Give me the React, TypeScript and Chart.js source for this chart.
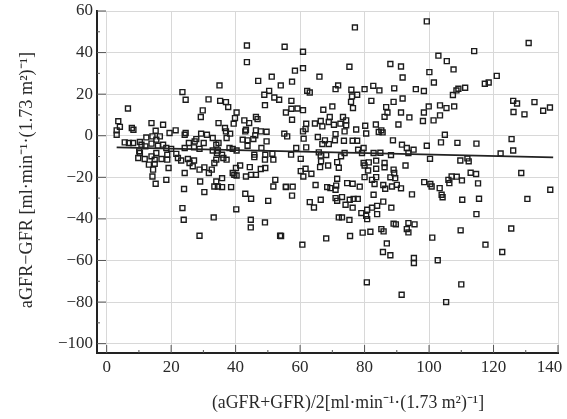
import React, { useEffect, useRef } from "react";
import { Chart, registerables } from "chart.js";

Chart.register(...registerables);

const xTitle = "(aGFR+GFR)/2[ml·min⁻¹·(1.73 m²)⁻¹]";
const yTitle = "aGFR−GFR [ml·min⁻¹·(1.73 m²)⁻¹]";
const xTickLabels = [0, 20, 40, 60, 80, 100, 120, 140];
const yTickLabels = [60, 40, 20, 0, -20, -40, -60, -80, -100];
const meanLine: [number, number][] = [[3.1, -5.6], [138.5, -10.4]];

const lowRange: [number, number][] = [
  [3.6,7],[4.1,4.3],[3.1,2.6],[3.1,0.5],[6.6,13.1],[7.8,3.7],[8.3,2.9],[5.6,-3.2],[6.9,-3.5],[8.2,-3.5],[10.3,-3],[10.8,-4.3],[12.3,-0.8],[12,-5.1],[10.1,-7.5],[10.3,-8.3],[9.8,-10.7],[11.8,-11.2],[13.1,-13.9],[13.9,6.1],[17.5,5.3],[15.2,2.4],[14.2,-0.3],[16.5,-0.3],[15.4,-1.9],[13.9,-3.8],[15.9,-4.8],[17.5,-4.3],[18.5,-5.9],[20,-6.3],[13.9,-9.9],[15.4,-8.3],[14.9,-11.5],[17,-11.2],[18.8,-9.1],[18.8,-11.5],[14.9,-13.5],[19.2,-15.5],[14.4,-16.3],[14.2,-19.6],[15.2,-23.1],[18.5,-21.2],[19.5,1.3],[21.4,2.6],[24.5,1.3],[24.2,0.5],[21.6,-8.7],[22.1,-10.7],[23.1,-11.9],[24.2,-5.9],[25.5,-3.5],[27.3,-2.7],[27.1,-5.6],[28.8,-6.3],[25.2,-11.2],[27.1,-11.9],[25.7,-13.1],[26.7,-14.7],[24.2,-17.9],[24,-25.6],[23.5,21],[24.5,17.3],[31.6,17.5],[29.8,12.2],[29.2,9],[35,24.2],[35.2,16.8],[37,16.2],[37.7,13.8],[34.7,6.1],[40.3,11.2],[39.8,8.5],[39.4,5.8],[36.7,3.7],[37,2.1],[38.3,1],[37.2,-1.1],[29.3,1],[31.1,0.5],[27.8,-1.6],[32.9,-1.1],[30.1,-3.5],[34.7,-3.5],[34,-4.3],[32.9,-7.1],[34.5,-7.1],[34.2,-8.3],[38.1,-5.9],[39.1,-6.3],[40.3,-7.1],[35.8,-9.1],[36.2,-10.7],[37.2,-11.5],[34,-11.5],[33.4,-13.1],[28.8,-16.3],[30.3,-15.2],[31.7,-17.9],[32.6,-16.3],[29,-22],[30.3,-27.1],[34,-22],[33.4,-24.4],[34.5,-24.4],[35.8,-20.4],[35.8,-24.7],[38.6,-24.7],[39.1,-17.9],[39.6,-18.8],[40.3,-19.1],[40.1,-15.5],[41.4,-14.3],
  [23.5,-34.8],[23.9,-40.4],[33.2,-39.3],[28.8,-48.1],[40.2,-35.4],
];

const midRange: [number, number][] = [
  [43.2,-19.6],[44.4,-15.1],[44.8,-18.8],[46.3,-18.8],[47.8,-16],[49.2,-15.5],[43,-27.9],[44.8,-30.3],[50.1,-31.3],[43.5,43.4],[43.5,35.4],[55.2,42.8],[47,26.4],[51.2,28.4],[54,24.2],[50.4,21.6],[48.9,19.7],[52,18.4],[53.5,17.3],[49.1,14.7],[55.6,11.2],[42.7,7.4],[44.2,6.1],[46.3,9],[46.8,8],[43.2,2.9],[43,2.1],[46.3,2.6],[47.8,2.1],[49.6,1.9],[46.1,0.2],[45.5,-1.6],[42.2,-1.9],[43.7,-2.2],[43.7,-4.8],[49.6,-2.7],[48,-5.9],[45.8,-9.1],[45.8,-10.3],[49.2,-9.1],[51.4,-8.7],[49.1,-11.5],[51.7,-11.5],[52.3,-21.2],[51.7,-24.4],[55.6,-24.7],[55.1,1],[56,-0.3],[44.7,-40.4],[44.7,-44.1],[49.1,-41.7],[53.8,-48.1],
  [60.9,40.4],[77,52.1],[75.3,33.2],[60.9,32.5],[58.4,31.3],[66,28.4],[57.5,26],[62.2,21.6],[63,20.8],[71.8,24.2],[71,22.4],[75.9,22.1],[77.7,19.7],[76.1,18.9],[75.8,16.3],[76.4,13.3],[57.3,16.8],[57.3,13],[59.2,13.1],[60.9,12.3],[67.2,12.5],[70,14.1],[57.5,7.7],[61.9,5.8],[64.6,5.9],[66.4,7.1],[66.9,4.5],[69.2,9],[68.9,6.6],[70.5,5.3],[73.3,9],[72.5,5.8],[74.3,7.4],[74.3,5],[61.7,3.2],[60.9,2.1],[73.8,2.1],[77.4,3],[61.1,-1.4],[65.5,-0.6],[71,0.8],[70.8,-2.2],[73.6,-2.4],[76.3,-2.4],[77.7,-2.4],[67.7,-2.2],[66.9,-4],[68.9,-4],[58.8,-5.9],[61.9,-5.6],[78,-6.7],[73.8,-8.3],[72.7,-9.9],[65.8,-8],[66.4,-9.5],[68.1,-9.3],[57.2,-9.1],[60.2,-11.1],[66.5,-12.3],[66.2,-15.1],[68.7,-14.3],[71.5,-12.7],[72,-15.4],[61.7,-15.9],[60.2,-17],[63.5,-18.3],[61,-19.6],[71.5,-20.7],[64.8,-23.7],[55.6,-24.5],[57.7,-24.5],[68.4,-24.7],[69.4,-25.2],[71.2,-24],[71,-26],[74.6,-22.8],[76.3,-23.1],[78.5,-24.5],[57.5,-28.8],[66.4,-30.8],[63,-31.9],[71,-30],[73,-29.5],[71.5,-31.3],[75.4,-30.8],[76.6,-30.4],[77.9,-30.4],[64.3,-34.5],[74.1,-33.2],[76.3,-34.6],[72,-39.3],[73,-39.3],[75.3,-40.5],[75.5,-48.2],[68.1,-49.4],[60.7,-52.4],[54.1,-48.2],
];

const highRange: [number, number][] = [
  [99.3,55],[130.9,44.6],[114,40.7],[102.9,38.5],[105.5,35.9],[107.6,31.9],[100.1,30.6],[91.3,33.3],[88,34.5],[91.8,28],[101.5,25.6],[121,28.8],[118.5,25.6],[117.3,25],[111.2,23.1],[109.1,22.6],[108.5,21.8],[107.4,19.6],[80,22.4],[82.7,24],[84.6,21.8],[89.2,22.8],[95.9,22.4],[98.4,21.5],[82.1,16.8],[89,16.3],[91.8,17.9],[86.7,13.8],[87.1,11.2],[86.2,9.1],[91.3,11.2],[93.9,8.8],[90.5,5.4],[99.9,14.1],[98.4,11.2],[98.1,7.1],[101.4,7.4],[103.4,9.8],[103.4,14.6],[105.4,13.3],[107.8,14.1],[126.1,16.8],[127.3,15.5],[132.7,16.2],[137.5,13.6],[135.4,12],[126.2,11.4],[129.6,10.3],[80.2,4.8],[80.5,1.1],[83.5,5.4],[84.4,1.8],[85.2,2.6],[85.6,1.6],[88.8,-2.2],[91.6,-4.3],[93.1,-5.9],[104.9,0.5],[103.7,-3.2],[99.3,-4.8],[108.8,-3.4],[114.7,-3.8],[125.6,-1.6],[126.1,-7.1],[122.2,-8.5],[95.2,-6.7],[93.6,-8.3],[88.2,-9.3],[79.7,-5.9],[79.2,-8.3],[82.8,-8.3],[84.9,-8.2],[79.7,-13.1],[80,-14.3],[81.3,-12.8],[83.6,-12],[86.2,-13.1],[86.2,-15.2],[83.6,-15.9],[81.1,-16.7],[92.7,-14.3],[100.3,-11.1],[109.7,-11.9],[111.9,-10.9],[112.3,-12.3],[89,-16.3],[89.2,-17.9],[88,-20],[89.5,-20.4],[80,-19.9],[82.3,-21.2],[83.6,-19.9],[112.9,-17.8],[114.6,-18.4],[128.6,-17.9],[107,-19.6],[108.6,-19.7],[106,-21.2],[110.2,-21.5],[106.3,-22.8],[98.5,-22.3],[100.4,-23.2],[100.8,-24.4],[103.3,-25.2],[115.2,-22.9],[83.1,-23.2],[85.8,-23.7],[86.4,-25.5],[88.5,-24.4],[90,-23.6],[91.3,-25.3],[82.8,-28.4],[94.7,-28.2],[103.9,-28.4],[104.2,-29.6],[137.6,-26],[115.5,-30.3],[110.3,-30.8],[130.5,-30.4],[85.8,-31.7],[83.9,-33.7],[82.3,-34.6],[80.8,-35.6],[88.3,-34.6],[79,-37.2],[80.5,-38.5],[80.8,-40.1],[83.9,-37.7],[114.7,-37.7],[89,-42.3],[89.7,-42.6],[93.6,-42],[95.5,-42.6],[93.1,-44.9],[93.6,-46.5],[109.8,-45.5],[125.5,-44.6],[85.2,-44.9],[85.9,-46],[81.8,-46.2],[79.4,-46.6],[101,-49],[117.5,-52.4],[86.9,-51.8],[122.7,-55.9],[85.7,-55.9],[88,-57.5],[95.3,-58.8],[95.3,-61.2],[102.7,-59.9],[80.7,-70.5],[91.5,-76.5],[105.3,-80],[110,-71.5],
];

const toPoints = (rows: [number, number][]) => rows.map(([x, y]) => ({ x, y }));

const FONT = '"Liberation Serif", serif';
const GRID = "#d8d8d8";

const innerTicks = {
  id: "innerTicks",
  afterDatasetsDraw(chart: any) {
    const { ctx, chartArea: a, scales } = chart;
    ctx.save();
    ctx.strokeStyle = "#555";
    ctx.lineWidth = 1;
    for (const t of scales.x.ticks) {
      const px = scales.x.getPixelForValue(t.value);
      const len = t.value % 20 === 0 ? 8 : 3;
      ctx.beginPath();
      ctx.moveTo(px, a.bottom);
      ctx.lineTo(px, a.bottom - len);
      ctx.stroke();
    }
    for (const t of scales.y.ticks) {
      const py = scales.y.getPixelForValue(t.value);
      const len = t.value % 20 === 0 ? 9 : 3;
      ctx.beginPath();
      ctx.moveTo(a.left, py);
      ctx.lineTo(a.left + len, py);
      ctx.stroke();
    }
    ctx.restore();
  },
  afterDraw(chart: any) {
    const { ctx } = chart;
    ctx.save();
    ctx.fillStyle = "#2a2a2a";
    ctx.font = `17.8px ${FONT}`;
    ctx.textAlign = "center";
    ctx.textBaseline = "middle";
    ctx.fillText(xTitle, 348, 403);
    ctx.translate(27, 180);
    ctx.rotate(-Math.PI / 2);
    ctx.font = `18.2px ${FONT}`;
    ctx.fillText(yTitle, 0, 0);
    ctx.restore();
  },
};

export default function App() {
  const ref = useRef<HTMLCanvasElement>(null);
  useEffect(() => {
    const fixedY = (s: any) => { s.width = 97; s.paddingTop = 0; s.paddingBottom = 0; };
    const fixedX = (s: any) => { s.height = 66; s.paddingLeft = 0; s.paddingRight = 0; };
    const chart = new Chart(ref.current!, {
      type: "scatter",
      data: {
        datasets: [
          {
            type: "line",
            data: toPoints(meanLine),
            borderColor: "#222",
            borderWidth: 1.8,
            pointRadius: 0,
            fill: false,
          },
          {
            data: toPoints([...lowRange, ...midRange, ...highRange]),
            pointStyle: "rect",
            pointRadius: 3.5,
            pointBorderWidth: 1.4,
            pointBorderColor: "#1c1c1c",
            pointBackgroundColor: "rgba(0,0,0,0)",
          },
        ],
      } as any,
      options: {
        animation: false,
        responsive: false,
        layout: { padding: { top: 11, right: 9, left: 0, bottom: 0 } },
        plugins: { legend: { display: false }, tooltip: { enabled: false } },
        scales: {
          x: {
            type: "linear",
            min: -3,
            max: 140,
            afterFit: fixedX,
            border: { color: "#222", width: 2 },
            grid: {
              drawTicks: false,
              lineWidth: 1,
              color: (c: any) => (c.tick.value % 20 === 0 ? GRID : "rgba(0,0,0,0)"),
            },
            ticks: {
              stepSize: 10,
              includeBounds: false,
              autoSkip: false,
              maxRotation: 0,
              padding: 4,
              color: "#2a2a2a",
              font: { family: FONT, size: 17 },
              callback: (v: any) =>
                xTickLabels.includes(v) ? (v === 140 ? "140    " : String(v)) : "",
            },
          },
          y: {
            type: "linear",
            min: -104.5,
            max: 60,
            afterFit: fixedY,
            border: { color: "#222", width: 2 },
            grid: {
              drawTicks: false,
              lineWidth: 1,
              color: (c: any) => (c.tick.value % 20 === 0 ? GRID : "rgba(0,0,0,0)"),
            },
            ticks: {
              stepSize: 10,
              includeBounds: false,
              autoSkip: false,
              padding: 4,
              color: "#2a2a2a",
              font: { family: FONT, size: 17 },
              callback: (v: any) =>
                yTickLabels.includes(v) ? String(v).replace("-", "−") : "",
            },
          },
        },
      },
      plugins: [innerTicks],
    } as any);
    return () => chart.destroy();
  }, []);
  return (
    <div style={{ position: "absolute", left: 0, top: 0, width: 567, height: 419 }}>
      <canvas ref={ref} width={567} height={419} style={{ display: "block", filter: "blur(0.35px)" }} />
    </div>
  );
}
